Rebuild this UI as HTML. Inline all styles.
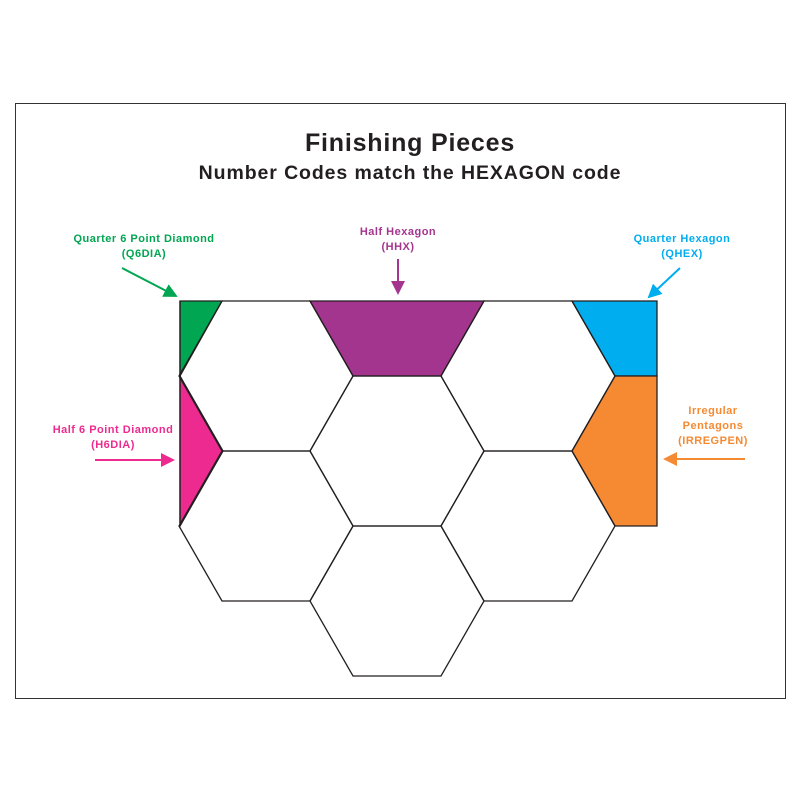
<!DOCTYPE html>
<html><head><meta charset="utf-8"><style>
html,body{margin:0;padding:0;background:#fff;}
svg{display:block;}
text{font-family:"Liberation Sans",Arial,sans-serif;font-weight:bold;}
</style></head><body>
<svg width="800" height="800" viewBox="0 0 800 800" xmlns="http://www.w3.org/2000/svg">
<defs>
<marker id="ag" markerWidth="14" markerHeight="14" refX="12" refY="7" orient="auto" markerUnits="userSpaceOnUse"><path d="M0,0 L14,7 L0,14 Z" fill="#00a651"/></marker>
<marker id="ap" markerWidth="14" markerHeight="14" refX="12" refY="7" orient="auto" markerUnits="userSpaceOnUse"><path d="M0,0 L14,7 L0,14 Z" fill="#a3358f"/></marker>
<marker id="ab" markerWidth="14" markerHeight="14" refX="12" refY="7" orient="auto" markerUnits="userSpaceOnUse"><path d="M0,0 L14,7 L0,14 Z" fill="#00aeef"/></marker>
<marker id="ak" markerWidth="14" markerHeight="14" refX="12" refY="7" orient="auto" markerUnits="userSpaceOnUse"><path d="M0,0 L14,7 L0,14 Z" fill="#ec2a8f"/></marker>
<marker id="ao" markerWidth="14" markerHeight="14" refX="12" refY="7" orient="auto" markerUnits="userSpaceOnUse"><path d="M0,0 L14,7 L0,14 Z" fill="#f58a33"/></marker>
</defs>
<rect x="15.5" y="103.5" width="770" height="595" fill="#fff" stroke="#333" stroke-width="1"/>
<text x="410" y="151" font-size="25" letter-spacing="0.8" text-anchor="middle" fill="#231f20">Finishing Pieces</text>
<text x="410" y="179" font-size="19.5" letter-spacing="0.9" text-anchor="middle" fill="#231f20">Number Codes match the HEXAGON code</text>

<g stroke="#231f20" stroke-width="1.3" stroke-linejoin="miter">
<polygon points="180,301 222,301 180,376" fill="#00a651"/>
<polygon points="310,301 484,301 441,376 353,376" fill="#a3358f"/>
<polygon points="572,301 657,301 657,376 615,376" fill="#00aeef"/>
<polygon points="615,376 657,376 657,526 615,526 572,451" fill="#f58a33"/>
<polygon points="180,376 223,451 180,526" fill="#ec2a8f"/>
<g fill="none">
<polygon points="222,301 310,301 353,376 310,451 222,451 179,376"/>
<polygon points="222,451 310,451 353,526 310,601 222,601 179,526"/>
<polygon points="353,376 441,376 484,451 441,526 353,526 310,451"/>
<polygon points="353,526 441,526 484,601 441,676 353,676 310,601"/>
<polygon points="484,301 572,301 615,376 572,451 484,451 441,376"/>
<polygon points="484,451 572,451 615,526 572,601 484,601 441,526"/>
<line x1="180" y1="301" x2="180" y2="526"/>
</g>
</g>

<g font-size="11" letter-spacing="0.5" text-anchor="middle">
<text x="144" y="242" fill="#00a651">Quarter 6 Point Diamond</text>
<text x="144" y="257" fill="#00a651">(Q6DIA)</text>
<text x="398" y="235" fill="#a3358f">Half Hexagon</text>
<text x="398" y="250" fill="#a3358f">(HHX)</text>
<text x="682" y="242" fill="#00aeef">Quarter Hexagon</text>
<text x="682" y="257" fill="#00aeef">(QHEX)</text>
<text x="113" y="433" fill="#ec2a8f">Half 6 Point Diamond</text>
<text x="113" y="448" fill="#ec2a8f">(H6DIA)</text>
<text x="713" y="414" fill="#f58a33">Irregular</text>
<text x="713" y="429" fill="#f58a33">Pentagons</text>
<text x="713" y="444" fill="#f58a33">(IRREGPEN)</text>
</g>

<line x1="122" y1="268" x2="176" y2="296" stroke="#00a651" stroke-width="2" marker-end="url(#ag)"/>
<line x1="398" y1="259" x2="398" y2="293" stroke="#a3358f" stroke-width="2" marker-end="url(#ap)"/>
<line x1="680" y1="268" x2="649" y2="297" stroke="#00aeef" stroke-width="2" marker-end="url(#ab)"/>
<line x1="95" y1="460" x2="173" y2="460" stroke="#ec2a8f" stroke-width="2" marker-end="url(#ak)"/>
<line x1="745" y1="459" x2="665" y2="459" stroke="#f58a33" stroke-width="2" marker-end="url(#ao)"/>
</svg>
</body></html>
